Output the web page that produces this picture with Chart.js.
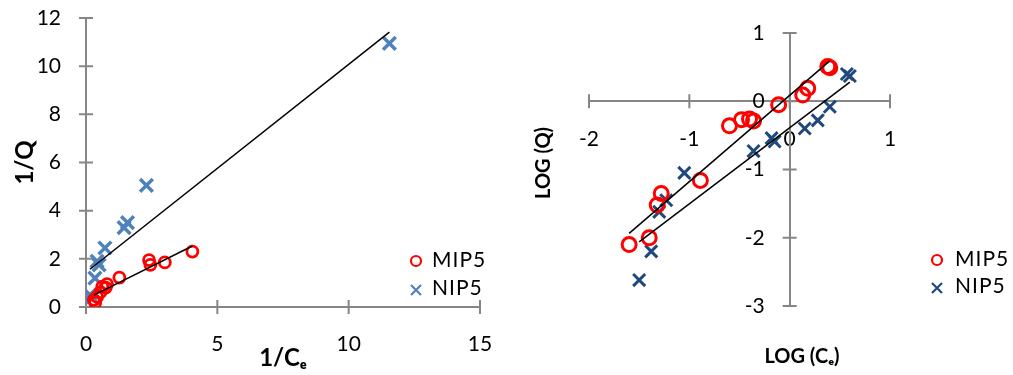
<!DOCTYPE html>
<html>
<head>
<meta charset="utf-8">
<title>MIP5 / NIP5 isotherms</title>
<script src="https://cdn.jsdelivr.net/npm/chart.js@4.4.0/dist/chart.umd.min.js"></script>
<style>
  html, body { margin: 0; padding: 0; background: #fff; }
  #wrap { position: relative; width: 1013px; height: 375px; }
  #left { position: absolute; left: 0; top: 0; }
  #right { position: absolute; left: 520px; top: 0; }
</style>
</head>
<body>
<div id="wrap">
  <canvas id="left" width="520" height="375"></canvas>
  <canvas id="right" width="493" height="375"></canvas>
</div>
<script>
'use strict';

const seriesNames = ['MIP5', 'NIP5'];

// left panel : 1/Ce vs 1/Q
const mipInvCe = [0.3, 0.35, 0.42, 0.55, 0.62, 0.75, 0.8, 1.27, 2.4, 2.45, 3.0, 4.05];
const mipInvQ  = [0.3, 0.18, 0.42, 0.62, 0.85, 0.8, 0.95, 1.22, 1.95, 1.75, 1.85, 2.3];
const nipInvCe = [0.15, 0.22, 0.34, 0.42, 0.5, 0.72, 1.45, 1.58, 2.3, 11.55];
const nipInvQ  = [0.5, 0.4, 1.2, 1.9, 1.75, 2.45, 3.3, 3.5, 5.05, 10.95];
const invCeTicks = [0, 5, 10, 15];
const invQTicks  = [0, 2, 4, 6, 8, 10, 12];

// right panel : log Ce vs log Q
const mipLogCe = [-1.60, -1.40, -1.32, -1.28, -0.89, -0.60, -0.48, -0.40, -0.36, -0.11, 0.13, 0.18, 0.38, 0.40];
const mipLogQ  = [-2.10, -2.00, -1.52, -1.35, -1.16, -0.36, -0.27, -0.26, -0.29, -0.05, 0.09, 0.19, 0.51, 0.49];
const nipLogCe = [-1.50, -1.38, -1.30, -1.23, -1.05, -0.36, -0.18, -0.15, 0.15, 0.28, 0.40, 0.57, 0.60];
const nipLogQ  = [-2.62, -2.20, -1.62, -1.45, -1.05, -0.73, -0.54, -0.59, -0.40, -0.28, -0.08, 0.40, 0.37];
const logCeTicks = [-2, -1, 0, 1];
const logQTicks  = [-3, -2, -1, 0, 1];

const RED = '#ff0000';
const BLUE = '#4f81bd';
const NAVY = '#1f497d';
const AXIS = '#868686';
const FONT = 'Lato, "Open Sans", sans-serif';

function points(xs, ys) {
  return xs.map(function (x, i) { return {x: x, y: ys[i]}; });
}

// least squares fit, drawn from min x to max x like the excel trendline
function trend(xs, ys) {
  const n = xs.length;
  const mx = xs.reduce(function (a, b) { return a + b; }, 0) / n;
  const my = ys.reduce(function (a, b) { return a + b; }, 0) / n;
  let sxy = 0, sxx = 0;
  xs.forEach(function (x, i) {
    sxy += (x - mx) * (ys[i] - my);
    sxx += (x - mx) * (x - mx);
  });
  const k = sxy / sxx, b = my - k * mx;
  const lo = Math.min.apply(null, xs), hi = Math.max.apply(null, xs);
  return [{x: lo, y: k * lo + b}, {x: hi, y: k * hi + b}];
}

function markerSet(label, xs, ys, style, color, radius, width) {
  return {
    label: label,
    data: points(xs, ys),
    pointStyle: style,
    pointRadius: radius,
    pointHoverRadius: radius,
    pointBorderColor: color,
    borderColor: color,
    pointBackgroundColor: 'rgba(0,0,0,0)',
    backgroundColor: 'rgba(0,0,0,0)',
    pointBorderWidth: width,
    borderWidth: width,
    order: 1
  };
}

function trendSet(xs, ys) {
  return {
    label: '',
    data: trend(xs, ys),
    showLine: true,
    borderColor: '#000',
    borderWidth: 1.5,
    pointRadius: 0,
    fill: false,
    order: 0
  };
}

// tick marks themselves are drawn by the plugin below (they cross the axis),
// the invisible 25px tick only keeps the labels away from the axis line
function axis(tickList, extra) {
  return Object.assign({
    type: 'linear',
    min: tickList[0],
    max: tickList[tickList.length - 1],
    afterBuildTicks: function (s) { s.ticks = tickList.map(function (v) { return {value: v}; }); },
    border: {display: true, color: AXIS, width: 2},
    grid: {drawOnChartArea: false, drawTicks: true, tickLength: 25, tickWidth: 2, tickColor: 'rgba(0,0,0,0)', color: AXIS},
    ticks: {color: '#000', font: {family: FONT, size: 21}, padding: 0}
  }, extra);
}

// crossing tick marks, y labels beside a floating axis, legend and free titles
const extras = {
  id: 'extras',
  beforeDatasetsDraw: function (chart, args, opts) {
    const ctx = chart.ctx, xs = chart.scales.x, ys = chart.scales.y;
    const x0 = xs.getPixelForValue(0), y0 = ys.getPixelForValue(0);
    ctx.save();
    ctx.strokeStyle = AXIS;
    ctx.lineWidth = 2;
    ctx.beginPath();
    xs.ticks.forEach(function (t) {
      const p = xs.getPixelForValue(t.value);
      ctx.moveTo(p, y0 + 7); ctx.lineTo(p, y0 - 7);
    });
    ys.ticks.forEach(function (t) {
      const p = ys.getPixelForValue(t.value);
      ctx.moveTo(x0 - 7, p); ctx.lineTo(x0 + 7, p);
    });
    ctx.stroke();
    if (opts.yLabelsAtAxis) {
      ctx.fillStyle = '#000';
      ctx.font = '21px ' + FONT;
      ctx.textAlign = 'right';
      ctx.textBaseline = 'middle';
      ys.ticks.forEach(function (t) {
        ctx.fillText(t.label, x0 - 25, ys.getPixelForValue(t.value));
      });
    }
    ctx.restore();
  },
  afterDraw: function (chart, args, opts) {
    const ctx = chart.ctx;
    ctx.save();
    const lg = opts.legend;
    let row = 0;
    chart.data.datasets.forEach(function (ds) {
      if (!ds.label) return;
      const y = lg.y + row * lg.gap;
      ctx.strokeStyle = ds.pointBorderColor;
      ctx.lineWidth = lg.lineWidth;
      ctx.beginPath();
      if (ds.pointStyle === 'circle') {
        ctx.arc(lg.x, y + 1, lg.size, 0, Math.PI * 2);
      } else {
        ctx.moveTo(lg.x - lg.size, y + 2 - lg.size); ctx.lineTo(lg.x + lg.size, y + 2 + lg.size);
        ctx.moveTo(lg.x - lg.size, y + 2 + lg.size); ctx.lineTo(lg.x + lg.size, y + 2 - lg.size);
      }
      ctx.stroke();
      ctx.fillStyle = '#000';
      ctx.font = '21px ' + FONT;
      if ('letterSpacing' in ctx) ctx.letterSpacing = '1px';
      ctx.textBaseline = 'middle';
      ctx.textAlign = 'left';
      ctx.fillText(ds.label, lg.textX, y);
      if ('letterSpacing' in ctx) ctx.letterSpacing = '0px';
      row++;
    });
    (opts.titles || []).forEach(function (t) {
      ctx.save();
      ctx.translate(t.x, t.y);
      ctx.rotate(t.rotate || 0);
      ctx.fillStyle = '#000';
      ctx.font = 'bold 20px ' + FONT;
      ctx.textAlign = 'center';
      ctx.textBaseline = 'middle';
      ctx.fillText(t.text, 0, 0);
      ctx.restore();
    });
    ctx.restore();
  }
};

Chart.defaults.font.family = FONT;

new Chart(document.getElementById('left'), {
  type: 'scatter',
  data: {
    datasets: [
      markerSet(seriesNames[0], mipInvCe, mipInvQ, 'circle', RED, 5.5, 2.8),
      markerSet(seriesNames[1], nipInvCe, nipInvQ, 'crossRot', BLUE, 9, 3.5),
      trendSet(mipInvCe, mipInvQ),
      trendSet(nipInvCe, nipInvQ)
    ]
  },
  options: {
    responsive: false,
    animation: false,
    devicePixelRatio: 1,
    layout: {padding: {left: 0, right: 40, top: 18, bottom: 0}},
    plugins: {
      legend: {display: false},
      tooltip: {enabled: false},
      extras: {legend: {x: 416, textX: 432, y: 260, gap: 28, size: 5, lineWidth: 2.2}}
    },
    scales: {
      x: axis(invCeTicks, {
        position: 'bottom',
        afterFit: function (s) { s.height = 68; },
        title: {display: true, text: '1/Cₑ', color: '#000', font: {family: FONT, size: 24, weight: 'bold'}, padding: {top: 0, bottom: 2}}
      }),
      y: axis(invQTicks, {
        position: 'left',
        afterFit: function (s) { s.width = 86; },
        title: {display: true, text: '1/Q', color: '#000', font: {family: FONT, size: 24, weight: 'bold'}, padding: {top: 11, bottom: 0}}
      })
    }
  },
  plugins: [extras]
});

new Chart(document.getElementById('right'), {
  type: 'scatter',
  data: {
    datasets: [
      markerSet(seriesNames[0], mipLogCe, mipLogQ, 'circle', RED, 7, 3),
      markerSet(seriesNames[1], nipLogCe, nipLogQ, 'crossRot', NAVY, 8.5, 3),
      trendSet(mipLogCe, mipLogQ),
      trendSet(nipLogCe, nipLogQ)
    ]
  },
  options: {
    responsive: false,
    animation: false,
    devicePixelRatio: 1,
    layout: {padding: {left: 69, right: 123, top: 33, bottom: 69}},
    plugins: {
      legend: {display: false},
      tooltip: {enabled: false},
      extras: {
        yLabelsAtAxis: true,
        legend: {x: 417, textX: 435, y: 259, gap: 27, size: 5, lineWidth: 2.2},
        titles: [
          {text: 'LOG (Q)', x: 24, y: 163, rotate: -Math.PI / 2},
          {text: 'LOG (Cₑ)', x: 282, y: 357}
        ]
      }
    },
    scales: {
      x: axis(logCeTicks, {position: {y: 0}}),
      y: axis(logQTicks, {position: {x: 0}, ticks: {display: false}})
    }
  },
  plugins: [extras]
});
</script>
</body>
</html>
